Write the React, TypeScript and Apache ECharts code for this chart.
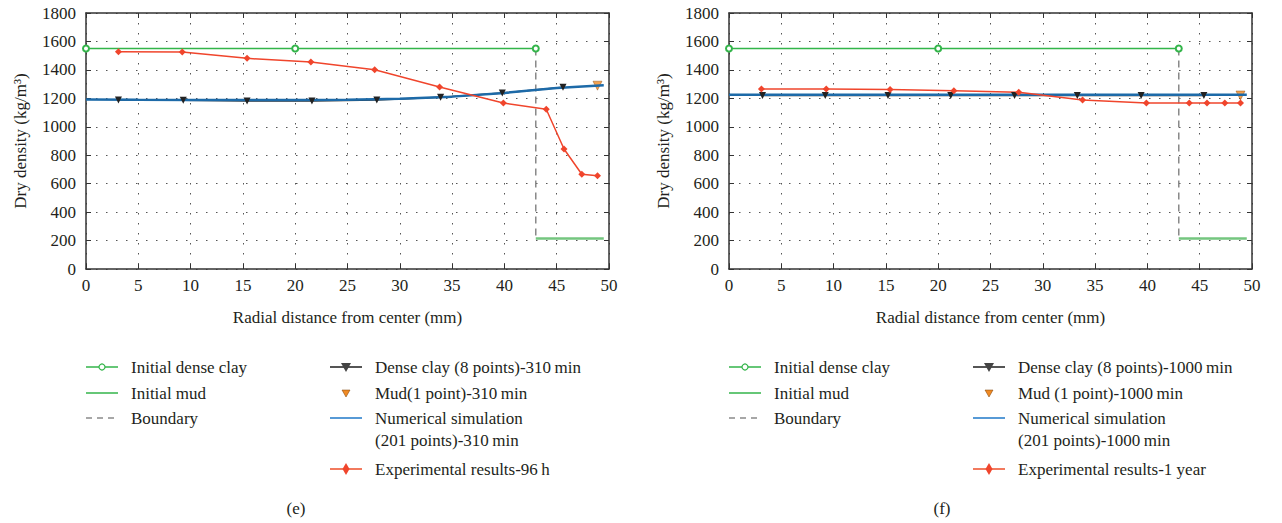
import React, { useEffect, useRef } from "react";
import * as echarts from "echarts";

// ---- data ----
const X_TICKS_MAX = 50;
const Y_TICKS_MAX = 1800;
const clayInitX = [0, 20, 43];
const clayInitY = [1550, 1550, 1550];
const mudInitX = [43, 49.5];
const mudInitY = [215, 215];
const boundaryX = [43, 43];
const boundaryY = [1550, 215];

const denseX_E = [3.1, 9.3, 15.4, 21.6, 27.8, 33.9, 39.8, 45.6];
const denseY_E = [1188, 1186, 1182, 1181, 1188, 1207, 1238, 1278];
const mudPtX_E = [48.9];
const mudPtY_E = [1289];
const simX = [0, 5, 10, 15, 20, 25, 30, 35, 40, 45, 49.5];
const simY_E = [1192, 1190, 1189, 1188, 1188, 1190, 1197, 1212, 1238, 1272, 1292];
const expX_E = [3.1, 9.2, 15.4, 21.5, 27.6, 33.8, 39.9, 44.0, 45.7, 47.4, 48.9];
const expY_E = [1528, 1526, 1481, 1455, 1401, 1280, 1167, 1123, 844, 666, 656];

const denseX_F = [3.2, 9.2, 15.2, 21.2, 27.3, 33.3, 39.4, 45.4];
const denseY_F = [1220, 1220, 1220, 1220, 1220, 1220, 1220, 1220];
const mudPtX_F = [48.9];
const mudPtY_F = [1220];
const simY_F = [1225, 1225, 1225, 1225, 1225, 1225, 1225, 1225, 1225, 1225, 1225];
const expX_F = [3.1, 9.3, 15.4, 21.5, 27.7, 33.8, 39.9, 44.0, 45.7, 47.4, 48.9];
const expY_F = [1266, 1266, 1262, 1254, 1242, 1188, 1167, 1167, 1167, 1167, 1167];

const legendE = [
  "Initial dense clay",
  "Initial mud",
  "Boundary",
  "Dense clay (8 points)-310\u2009min",
  "Mud(1 point)-310\u2009min",
  "Numerical simulation\n(201 points)-310\u2009min",
  "Experimental results-96\u2009h",
];
const legendF = [
  "Initial dense clay",
  "Initial mud",
  "Boundary",
  "Dense clay (8 points)-1000\u2009min",
  "Mud (1 point)-1000\u2009min",
  "Numerical simulation\n(201 points)-1000\u2009min",
  "Experimental results-1 year",
];

const FONT = "Liberation Serif";
const FS = 17;
const TXT = "#231f20";
const GREEN = "#33b54a";
const MUD_GREEN = "#74c67f";
const RED = "#f0452c";
const BLUE = "#1d6aa8";
const ORANGE = "#f08a24";
const DARK = "#333333";
const GRAY = "#8a8a8a";

const zip = (xs: number[], ys: number[]) => xs.map((x, i) => [x, ys[i]]);

function seriesFor(idx: number, names: string[], dX: number[], dY: number[], mX: number[], mY: number[], sY: number[], eX: number[], eY: number[]) {
  const base = { xAxisIndex: idx, yAxisIndex: idx, animation: false };
  return [
    { ...base, type: "line", name: names[0], data: zip(clayInitX, clayInitY), symbol: "emptyCircle", symbolSize: 6, lineStyle: { color: GREEN, width: 1.5 }, itemStyle: { color: GREEN, borderColor: GREEN, borderWidth: 1.2 } },
    { ...base, type: "line", name: names[1], data: zip(mudInitX, mudInitY), symbol: "none", lineStyle: { color: MUD_GREEN, width: 2.5 } },
    { ...base, type: "line", name: names[2], data: zip(boundaryX, boundaryY), symbol: "none", lineStyle: { color: GRAY, width: 1.5, type: [7, 5] } },
    { ...base, type: "line", name: names[3], data: zip(dX, dY), symbol: "triangle", symbolRotate: 180, symbolSize: 7, lineStyle: { color: DARK, width: 1.5 }, itemStyle: { color: "#222" } },
    { ...base, type: "scatter", name: names[4], data: zip(mX, mY), symbol: "triangle", symbolRotate: 180, symbolSize: 9, itemStyle: { color: ORANGE, borderColor: "#7a3d00", borderWidth: 0.5 } },
    { ...base, type: "line", name: names[5], data: zip(simX, sY), symbol: "none", lineStyle: { color: BLUE, width: 2.5 } },
    { ...base, type: "line", name: names[6], data: zip(eX, eY), symbol: "diamond", symbolSize: 7, lineStyle: { color: RED, width: 1.5 }, itemStyle: { color: RED } },
  ];
}

function txt(x: number, y: number, text: string, extra: any = {}) {
  return { type: "text", x, y, style: { text, fontFamily: FONT, fontSize: FS, fill: TXT, verticalAlign: "middle", align: "left", ...extra } };
}

function legendGraphics(ox: number, names: string[]) {
  const els: any[] = [];
  const lc = { x1: ox + 0, x2: ox + 32 };
  const rc = { x1: ox + 244, x2: ox + 276 };
  const rows = [367, 393, 418];
  els.push({ type: "line", shape: { x1: lc.x1, y1: rows[0], x2: lc.x2, y2: rows[0] }, style: { stroke: GREEN, lineWidth: 1.5 } });
  els.push({ type: "circle", shape: { cx: (lc.x1 + lc.x2) / 2, cy: rows[0], r: 3 }, style: { fill: "#fff", stroke: GREEN, lineWidth: 1.2 } });
  els.push({ type: "line", shape: { x1: lc.x1, y1: rows[1], x2: lc.x2, y2: rows[1] }, style: { stroke: GREEN, lineWidth: 1.5 } });
  els.push({ type: "line", shape: { x1: lc.x1, y1: rows[2], x2: lc.x2, y2: rows[2] }, style: { stroke: GRAY, lineWidth: 1.5, lineDash: [6, 5] } });
  for (let i = 0; i < 3; i++) els.push(txt(ox + 45, rows[i], names[i]));
  const cx = (rc.x1 + rc.x2) / 2;
  els.push({ type: "line", shape: { x1: rc.x1, y1: rows[0], x2: rc.x2, y2: rows[0] }, style: { stroke: "#555", lineWidth: 2 } });
  els.push({ type: "polygon", shape: { points: [[cx - 5, rows[0] - 4], [cx + 5, rows[0] - 4], [cx, rows[0] + 5]] }, style: { fill: "#444" } });
  els.push({ type: "polygon", shape: { points: [[cx - 4, rows[1] - 3], [cx + 4, rows[1] - 3], [cx, rows[1] + 4]] }, style: { fill: ORANGE, stroke: "#7a3d00", lineWidth: 0.5 } });
  els.push({ type: "line", shape: { x1: rc.x1, y1: rows[2], x2: rc.x2, y2: rows[2] }, style: { stroke: "#1f78c8", lineWidth: 1.5 } });
  els.push({ type: "line", shape: { x1: rc.x1, y1: 469, x2: rc.x2, y2: 469 }, style: { stroke: "#f27a5e", lineWidth: 2 } });
  els.push({ type: "polygon", shape: { points: [[cx, 463], [cx + 3.5, 469], [cx, 475], [cx - 3.5, 469]] }, style: { fill: RED } });
  els.push(txt(ox + 289, rows[0], names[3]));
  els.push(txt(ox + 289, rows[1], names[4]));
  els.push(txt(ox + 289, rows[2] - 11, names[5], { verticalAlign: "top", lineHeight: 22 }));
  els.push(txt(ox + 289, 469, names[6]));
  return els;
}

const nf = (v: number) => String(v);

function makeX(idx: number, top: boolean) {
  return {
    type: "value",
    gridIndex: idx,
    position: top ? "top" : "bottom",
    min: 0,
    max: X_TICKS_MAX,
    interval: 5,
    name: top ? "" : "Radial distance from center (mm)",
    nameLocation: "middle",
    nameGap: 40,
    nameTextStyle: { fontFamily: FONT, fontSize: FS, color: TXT },
    axisLine: { show: true, onZero: false, lineStyle: { color: DARK, width: 1.5 } },
    axisTick: { show: true, inside: true, length: 5, lineStyle: { color: DARK } },
    axisLabel: { show: !top, fontFamily: FONT, fontSize: FS, color: TXT, margin: 8, formatter: nf },
    splitLine: { show: !top, lineStyle: { color: "#555", width: 1, type: [1.5, 8.5] } },
  };
}
function makeY(idx: number, right: boolean) {
  return {
    type: "value",
    gridIndex: idx,
    position: right ? "right" : "left",
    min: 0,
    max: Y_TICKS_MAX,
    interval: 200,
    name: right ? "" : "Dry density (kg/m\u00b3)",
    nameLocation: "middle",
    nameGap: 57,
    nameTextStyle: { fontFamily: FONT, fontSize: FS, color: TXT },
    axisLine: { show: true, onZero: false, lineStyle: { color: DARK, width: 1.5 } },
    axisTick: { show: true, inside: true, length: 5, lineStyle: { color: DARK } },
    axisLabel: { show: !right, fontFamily: FONT, fontSize: FS, color: TXT, margin: 10, formatter: nf },
    splitLine: { show: !right, lineStyle: { color: "#555", width: 1, type: [1.5, 8.5] } },
  };
}

export default function App() {
  const ref = useRef<HTMLDivElement>(null);
  useEffect(() => {
    if (!ref.current) return;
    const chart = echarts.init(ref.current, undefined, { renderer: "svg" });
    chart.setOption({
      animation: false,
      backgroundColor: "#ffffff",
      textStyle: { fontFamily: FONT },
      grid: [
        { left: 86, top: 13, width: 523, height: 256 },
        { left: 729, top: 13, width: 523, height: 256 },
      ],
      xAxis: [makeX(0, false), makeX(1, false), makeX(0, true), makeX(1, true)],
      yAxis: [makeY(0, false), makeY(1, false), makeY(0, true), makeY(1, true)],
      series: [
        ...seriesFor(0, legendE, denseX_E, denseY_E, mudPtX_E, mudPtY_E, simY_E, expX_E, expY_E),
        ...seriesFor(1, legendF, denseX_F, denseY_F, mudPtX_F, mudPtY_F, simY_F, expX_F, expY_F),
      ],
      graphic: [
        ...legendGraphics(86, legendE),
        ...legendGraphics(729, legendF),
        txt(296, 508, "(e)", { align: "center" }),
        txt(942, 508, "(f)", { align: "center" }),
      ],
    });
    return () => chart.dispose();
  }, []);
  return <div ref={ref} style={{ position: "fixed", left: 0, top: 0, width: 1282, height: 523 }} />;
}
